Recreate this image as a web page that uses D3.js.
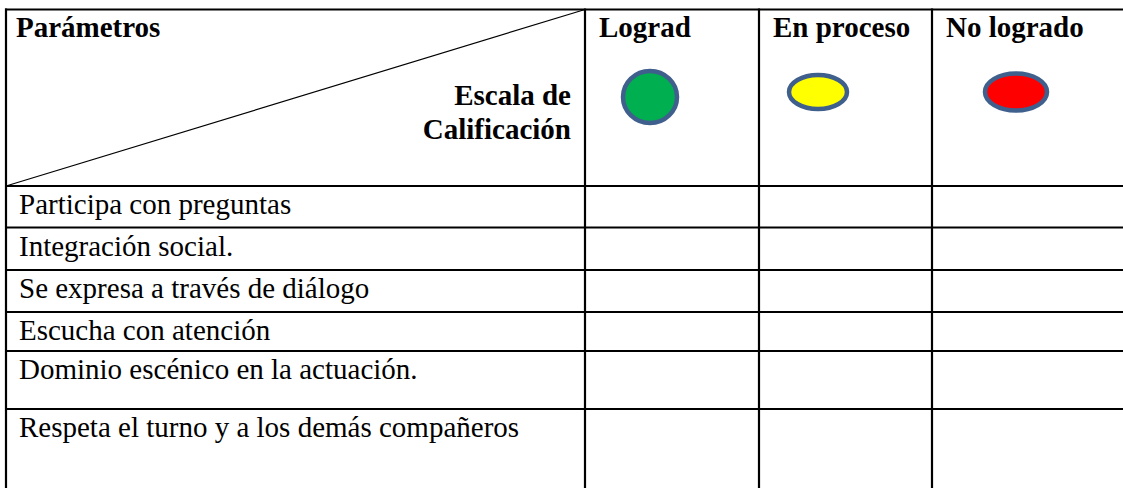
<!DOCTYPE html>
<html>
<head>
<meta charset="utf-8">
<script src="https://cdn.jsdelivr.net/npm/d3@7"></script>
<style>
  html, body { margin: 0; padding: 0; background: #fff; }
  svg { display: block; }
  svg text { font-family: "Liberation Serif", "Times New Roman", Tinos, "DejaVu Serif", serif; }
</style>
</head>
<body>
<script>
// ---- data ----
const cornerTop = "Parámetros";
const cornerBottom = ["Escala de", "Calificación"];
const scaleLabels = ["Lograd", "En proceso", "No logrado"];
const scaleColors = ["#00b050", "#ffff00", "#ff0000"];
const parameters = [
  "Participa con preguntas",
  "Integración social.",
  "Se expresa a través de diálogo",
  "Escucha con atención",
  "Dominio escénico en la actuación.",
  "Respeta el turno y a los demás compañeros"
];

// ---- layout ----
const W = 1123, H = 488;
const tableLeft = 6, tableTop = 9.5;
const colEdges = [tableLeft, 585, 759, 932, 1140];
const rowEdges = [tableTop, 186, 227.5, 270, 312, 351, 409, 520];
const ellipseSize = [[27, 26], [29, 17], [31, 18.5]];
const ellipseCy = [97, 92, 92];
const ellipseDx = [65, 59, 84];
const FS = 29;

const svg = d3.select("body").append("svg").attr("width", W).attr("height", H);

// diagonal in corner cell
svg.append("line")
  .attr("x1", colEdges[0]).attr("y1", rowEdges[1])
  .attr("x2", colEdges[1]).attr("y2", rowEdges[0])
  .attr("stroke", "#000").attr("stroke-width", 1.2);

// corner texts
svg.append("text").text(cornerTop)
  .attr("x", 16).attr("y", 37)
  .attr("font-weight", "bold").attr("font-size", FS);
svg.selectAll("text.cb").data(cornerBottom).join("text").attr("class", "cb")
  .text(d => d)
  .attr("x", 571).attr("y", (d, i) => 105 + i * 34)
  .attr("text-anchor", "end")
  .attr("font-weight", "bold").attr("font-size", FS);

// scale headers
svg.selectAll("text.sh").data(scaleLabels).join("text").attr("class", "sh")
  .text(d => d)
  .attr("x", (d, i) => colEdges[i + 1] + 14).attr("y", 37)
  .attr("font-weight", "bold").attr("font-size", FS);

// ellipses
svg.selectAll("ellipse").data(scaleColors).join("ellipse")
  .attr("cx", (d, i) => colEdges[i + 1] + ellipseDx[i])
  .attr("cy", (d, i) => ellipseCy[i])
  .attr("rx", (d, i) => ellipseSize[i][0])
  .attr("ry", (d, i) => ellipseSize[i][1])
  .attr("fill", d => d)
  .attr("stroke", "#3f5f8c").attr("stroke-width", 4.5);

// parameter rows
svg.selectAll("text.pr").data(parameters).join("text").attr("class", "pr")
  .text(d => d)
  .attr("x", 19).attr("y", (d, i) => rowEdges[i + 1] + 28)
  .attr("font-size", FS);

// grid lines
const g = svg.append("g").attr("stroke", "#000").attr("stroke-width", 2.2);
g.selectAll("line.h").data(rowEdges.slice(0, -1)).join("line").attr("class", "h")
  .attr("x1", tableLeft - 1).attr("x2", W + 5)
  .attr("y1", d => d).attr("y2", d => d);
g.selectAll("line.v").data(colEdges.slice(0, -1)).join("line").attr("class", "v")
  .attr("x1", d => d).attr("x2", d => d)
  .attr("y1", tableTop - 1).attr("y2", H + 5);
</script>
</body>
</html>
